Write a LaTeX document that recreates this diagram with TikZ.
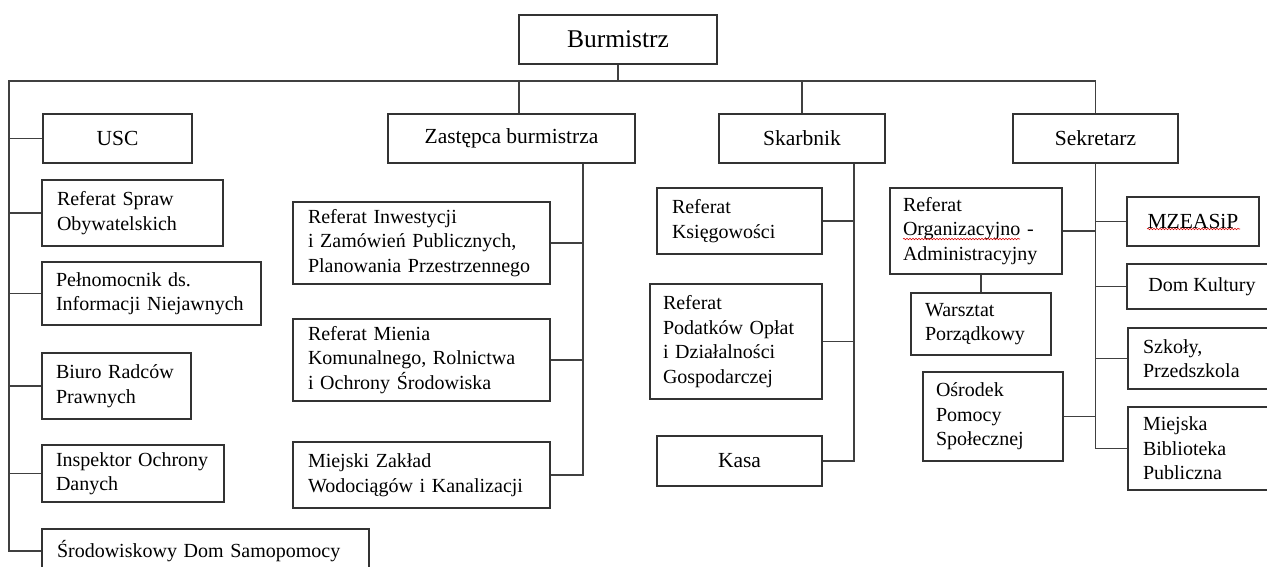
\documentclass[tikz,border=0pt]{standalone}
\usepackage{fontspec}
\setmainfont{Liberation Serif}
\usetikzlibrary{positioning}
\usetikzlibrary{decorations.pathmorphing}

\begin{document}
\begin{tikzpicture}[x=1pt,y=-1pt,
  box/.style={draw=black!80,line width=1.1pt,inner ysep=2pt},
  head/.style={box,inner xsep=4pt,font=\fontsize{21.5}{25}\selectfont},
  unit/.style={box,align=left,inner xsep=15pt,font=\fontsize{20}{24.5}\selectfont},
  wire/.style={draw=black!75,line width=1.1pt},
  spell/.style={draw=red!85!black,line width=0.6pt,decorate,
    decoration={snake,amplitude=0.7pt,segment length=3pt}}]
\clip (0,0) rectangle (1267,566);

% top level
\node[head,minimum width=198,minimum height=49,font=\fontsize{25.5}{30}\selectfont] (burm) at (618,39.5) {Burmistrz};
\node[head,minimum width=149,minimum height=49] (usc) at (117.5,138.5) {USC};
\node[head,minimum width=247,minimum height=49] (zast) at (511.5,138.5) {Zastępca burmistrza};
\node[head,minimum width=166,minimum height=49] (skarb) at (802,138.5) {Skarbnik};
\node[head,minimum width=165,minimum height=49] (sekr) at (1095.5,138.5) {Sekretarz};

% left column
\node[unit,text width=151pt,minimum height=66] (rso) at (132.5,213) {Referat Spraw\\Obywatelskich};
\node[unit,inner xsep=14pt,text width=191pt,minimum height=63] (peln) at (151.5,293.5) {Pełnomocnik ds.\\Informacji Niejawnych};
\node[unit,inner xsep=14pt,text width=121pt,minimum height=66] (biuro) at (116.5,386) {Biuro Radców\\Prawnych};
\node[unit,inner xsep=14pt,text width=154pt,minimum height=57] (insp) at (133,473.5) {Inspektor Ochrony\\Danych};
\node[unit,text width=297pt,minimum height=44] (srod) at (205.5,551) {Środowiskowy Dom Samopomocy};

% zastepca
\node[unit,text width=227pt,minimum height=82] (rinw) at (421.5,243) {Referat Inwestycji\\i Zamówień Publicznych,\\Planowania Przestrzennego};
\node[unit,text width=227pt,minimum height=82] (rmien) at (421.5,360) {Referat Mienia\\Komunalnego, Rolnictwa\\i Ochrony Środowiska};
\node[unit,text width=227pt,minimum height=66] (mzwik) at (421.5,475) {Miejski Zakład\\Wodociągów i Kanalizacji};

% skarbnik
\node[unit,text width=135pt,minimum height=66] (rks) at (739.5,221) {Referat\\Księgowości};
\node[unit,inner xsep=13pt,text width=146pt,minimum height=115] (rpod) at (736,341.5) {Referat\\Podatków Opłat\\i Działalności\\Gospodarczej};
\node[head,minimum width=165,minimum height=50] (kasa) at (739.5,461) {Kasa};

% sekretarz
\node[unit,inner xsep=13pt,text width=146pt,minimum height=86] (rorg) at (976,231) {Referat\\Organizacyjno -\\Administracyjny};
\node[unit,inner xsep=14pt,text width=112pt,minimum height=62] (warsz) at (981,324) {Warsztat\\Porządkowy};
\node[unit,inner xsep=13pt,text width=114pt,minimum height=89] (osr) at (993,416.5) {Ośrodek\\Pomocy\\Społecznej};
\node[head,minimum width=132,minimum height=49] (mzea) at (1193,221.5) {MZEASiP};
\node[box,font=\fontsize{20}{24.5}\selectfont,minimum width=150,minimum height=45] (dom) at (1202,286.5) {Dom Kultury};
\node[unit,text width=119pt,minimum height=61] (szk) at (1202.5,358.5) {Szkoły,\\Przedszkola};
\node[unit,text width=119pt,minimum height=83] (mbp) at (1202.5,448.5) {Miejska\\Biblioteka\\Publiczna};

% bus
\coordinate (busL) at (9,81);
\coordinate (zb) at ([xshift=71.5]zast.south);
\coordinate (sb) at ([xshift=52]skarb.south);
\draw[wire] (burm.south) -- (burm.south |- busL);
\draw[wire] (sekr.north) -- (sekr.north |- busL) -- (busL) |- (srod.west);
\draw[wire] ([xshift=7.5]zast.north) -- ([xshift=7.5]zast.north |- busL);
\draw[wire] (skarb.north) -- (skarb.north |- busL);

\foreach \n in {usc,rso,peln,biuro,insp}
  \draw[wire] (\n.west) -- (\n.west -| busL);

\draw[wire] (zb) |- (mzwik.east);
\foreach \n in {rinw,rmien}
  \draw[wire] (\n.east) -- (\n.east -| zb);

\draw[wire] (sb) |- (kasa.east);
\foreach \n in {rks,rpod}
  \draw[wire] (\n.east) -- (\n.east -| sb);

\draw[wire] (sekr.south) |- (mbp.west);
\foreach \n in {rorg,osr}
  \draw[wire] (\n.east) -- (\n.east -| sekr.south);
\foreach \n in {mzea,dom,szk}
  \draw[wire] (\n.west) -- (\n.west -| sekr.south);
\draw[wire] (warsz.north) -- (warsz.north |- rorg.south);

% spell check marks
\draw[spell] (903,239) -- (1020,239);
\draw[spell] (1147,229) -- (1240,229);

\end{tikzpicture}
\end{document}
